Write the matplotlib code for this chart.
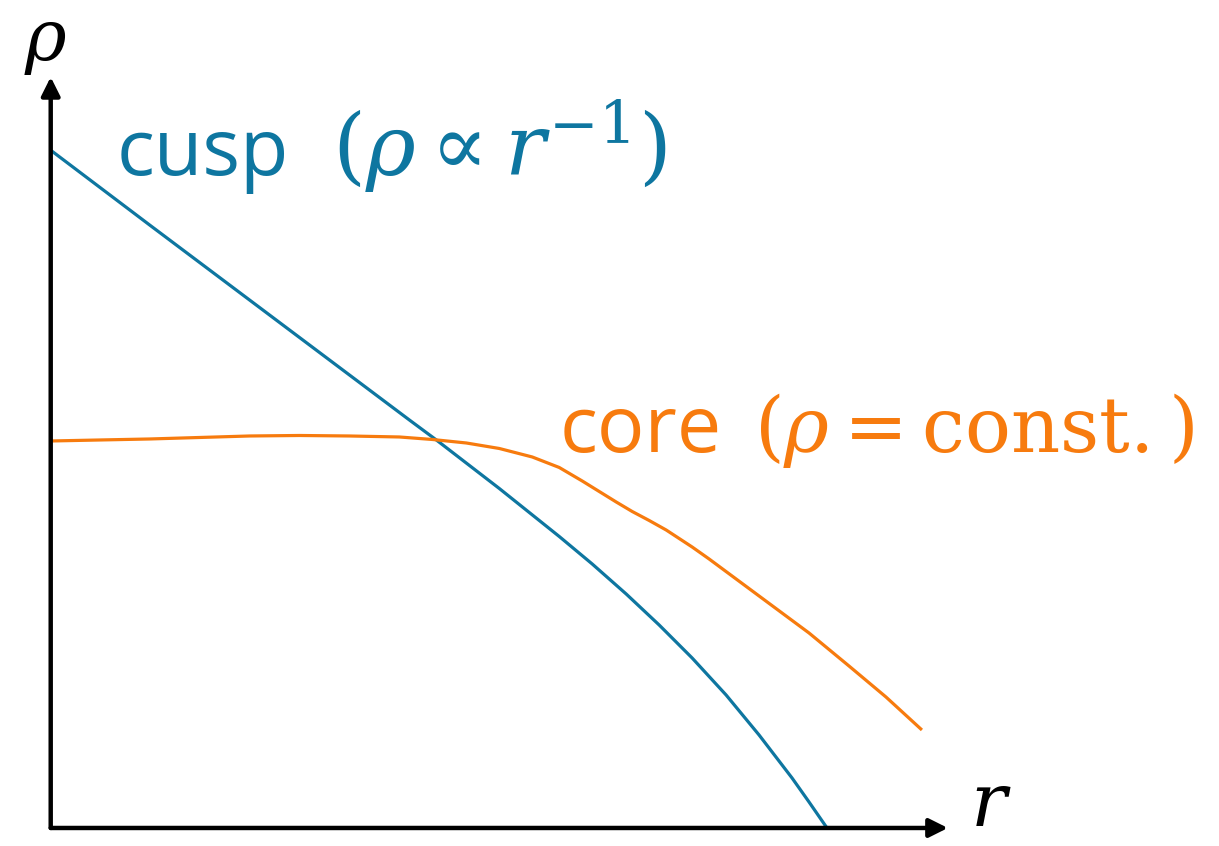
import matplotlib
matplotlib.use("Agg")
import matplotlib.pyplot as plt

plt.rcParams['font.family'] = ['Open Sans', 'DejaVu Sans']
plt.rcParams['mathtext.fontset'] = 'custom'
plt.rcParams['mathtext.rm'] = 'DejaVu Serif'
plt.rcParams['mathtext.it'] = 'DejaVu Serif:italic'

# schematic density profiles (arbitrary units)
cusp_r = [0.01, 0.99, 1.99, 2.99, 3.59, 3.86, 4.49, 5.09, 5.42, 5.76, 6.09, 6.42,
          6.76, 7.09, 7.42, 7.59, 7.77]
cusp_rho = [6.77, 6.03, 5.28, 4.53, 4.08, 3.88, 3.395, 2.915, 2.64, 2.34, 2.03, 1.70,
            1.33, 0.93, 0.50, 0.26, 0.0]

core_r = [0.0, 0.49, 0.99, 1.49, 1.99, 2.49, 2.99, 3.49, 3.82, 4.16, 4.49, 4.82, 5.09,
          5.32, 5.49, 5.66, 5.82, 5.99, 6.16, 6.42, 6.59, 7.09, 7.59, 7.99, 8.36, 8.72]
core_rho = [3.87, 3.88, 3.89, 3.905, 3.92, 3.925, 3.92, 3.91, 3.885, 3.85, 3.795, 3.71,
            3.605, 3.47, 3.365, 3.26, 3.165, 3.075, 2.98, 2.81, 2.69, 2.32, 1.95, 1.62,
            1.31, 0.98]

cusp_name, cusp_law = 'cusp', r'$(\rho \propto r^{-1})$'
core_name, core_law = 'core', r'$(\rho = \mathrm{const.})$'

blue = '#0e76a0'
orange = '#f77b0e'

fig = plt.figure(figsize=(12.19, 8.46), dpi=100)
ax = fig.add_axes([0.0416, 0.0213, 0.736, 0.8877])
ax.set_xlim(0, 8.98)
ax.set_ylim(0, 7.51)
ax.axis('off')

ax.plot(cusp_r, cusp_rho, color=blue, lw=2.3, solid_capstyle='butt', clip_on=False)
ax.plot(core_r, core_rho, color=orange, lw=2.3, solid_capstyle='butt', clip_on=False)

# axes with arrow heads
arrow = dict(arrowstyle='-|>', color='black', lw=3.2, mutation_scale=28,
             shrinkA=0, shrinkB=0)
ax.annotate('', xy=(1, 0), xytext=(0, 0), xycoords='axes fraction',
            textcoords='axes fraction', arrowprops=arrow)
ax.annotate('', xy=(0, 1), xytext=(0, 0), xycoords='axes fraction',
            textcoords='axes fraction', arrowprops=arrow)

# axis labels sit right at the figure edges, like the sketch
ax.text(-0.05, 8.22, r'$\rho$', fontsize=51, ha='center', va='top', clip_on=False)
ax.text(9.41, -0.16, r'$r$', fontsize=54, ha='center', va='bottom', clip_on=False)

ax.text(0.66, 6.53, cusp_name, color=blue, fontsize=57, ha='left', va='baseline')
ax.text(2.82, 6.53, cusp_law, color=blue, fontsize=61, ha='left', va='baseline')
ax.text(5.09, 3.76, core_name, color=orange, fontsize=57, ha='left', va='baseline')
ax.text(7.04, 3.76, core_law, color=orange, fontsize=55, ha='left', va='baseline')

fig.savefig('out.png', dpi=100)
